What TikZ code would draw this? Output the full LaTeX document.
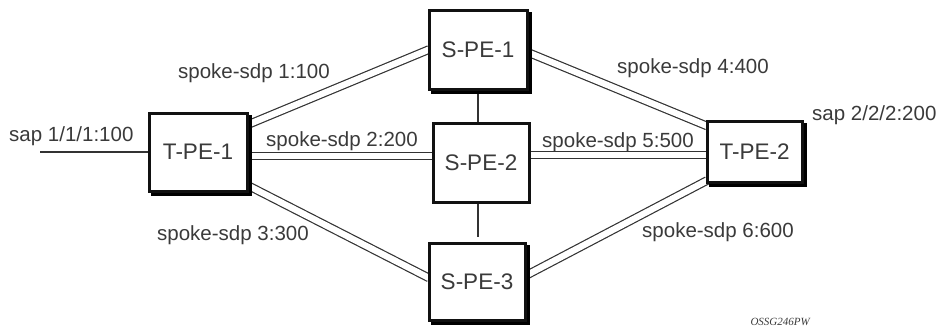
\documentclass[tikz,border=0pt]{standalone}
\usepackage{fontspec}
\setmainfont{Liberation Sans}
\newfontfamily\capfont{Liberation Serif}
\usetikzlibrary{backgrounds,calc}
\definecolor{boxc}{HTML}{111111}
\definecolor{linec}{HTML}{333333}
\definecolor{txtc}{HTML}{3A3A3A}
\begin{document}
\begin{tikzpicture}[x=1pt,y=-1pt,
  pebox/.style={draw=boxc, line width=3pt, fill=white, inner sep=0pt, outer sep=0pt, text=txtc,
    font=\fontsize{22.5}{26}\selectfont},
  shadbox/.style={fill=black, draw=black, line width=3pt, inner sep=0pt, outer sep=0pt},
  dbl/.style={draw=linec, line width=1.2pt, double=white, double distance=6.3pt},
  sgl/.style={draw=linec, line width=1.3pt},
  lbl/.style={text=txtc, font=\fontsize{20.5}{24}\selectfont, inner sep=0pt, anchor=base west}]
\useasboundingbox (0,0) rectangle (941,335);

% drop shadows
\node[shadbox, minimum width=98pt, minimum height=78pt] (tpe1s) at (201.5,155.5) {};
\node[shadbox, minimum width=98pt, minimum height=79pt] (spe1s) at (481.5,53) {};
\node[shadbox, minimum width=96pt, minimum height=77pt] (spe3s) at (480.5,285) {};
\node[shadbox, minimum width=95pt, minimum height=61pt] (tpe2s) at (758,155) {};

% boxes
\node[pebox, minimum width=98pt, minimum height=78pt] (tpe1) at (198,152) {T-PE-1};
\node[pebox, minimum width=98pt, minimum height=79pt] (spe1) at (478,49.5) {S-PE-1};
\node[pebox, minimum width=96pt, minimum height=79pt] (spe2) at (481,162.5) {S-PE-2\hspace{12pt}};
\node[pebox, minimum width=96pt, minimum height=77pt] (spe3) at (477,281.5) {S-PE-3};
\node[pebox, minimum width=95pt, minimum height=61pt] (tpe2) at (754.5,151.5) {T-PE-2};

\coordinate (sapend) at (40,152);
\coordinate (v3) at ($(spe3.north)+(0,-6)$);

\begin{scope}[on background layer]
  \draw[sgl] (tpe1.west) -- (sapend);
  \draw[sgl] (spe1.south) -- (spe1.south |- spe2.north);
  \draw[sgl] (spe2.south -| spe1.south) -- (v3 -| spe1.south);
  \draw[dbl] ([yshift=27pt]tpe1.east) -- (spe1.west);
  \draw[dbl] ([yshift=-4pt]tpe1.east) -- ([yshift=-4pt]tpe1.east -| spe2.west);
  \draw[dbl] ([yshift=-33pt]tpe1.east) -- ([yshift=3.5pt]spe3.west);
  \draw[dbl] ([yshift=-2.5pt]spe1.east) -- ([yshift=25.5pt]tpe2.west);
  \draw[dbl] ([yshift=7.5pt]spe2.east) -- ([yshift=7.5pt]spe2.east -| tpe2.west);
  \draw[dbl] ([yshift=5.5pt]spe3.east) -- ([yshift=-29pt]tpe2.west);
\end{scope}

\node[lbl] (l1) at (178,78) {spoke-sdp 1:100};
\node[lbl] (l2) at (266,146) {spoke-sdp 2:200};
\node[lbl] (l3) at (157,240) {spoke-sdp 3:300};
\node[lbl] (l4) at (617,73) {spoke-sdp 4:400};
\node[lbl] (l5) at (542,147) {spoke-sdp 5:500};
\node[lbl] (l6) at (642,237) {spoke-sdp 6:600};
\node[lbl] (s1) at (9,141) {sap 1/1/1:100};
\node[lbl] (s2) at (812,120) {sap 2/2/2:200};
\node[text=txtc, font=\capfont\itshape\fontsize{11}{13}\selectfont, inner sep=0pt, anchor=base east] (code) at (810,325) {OSSG246PW};
\end{tikzpicture}
\end{document}
